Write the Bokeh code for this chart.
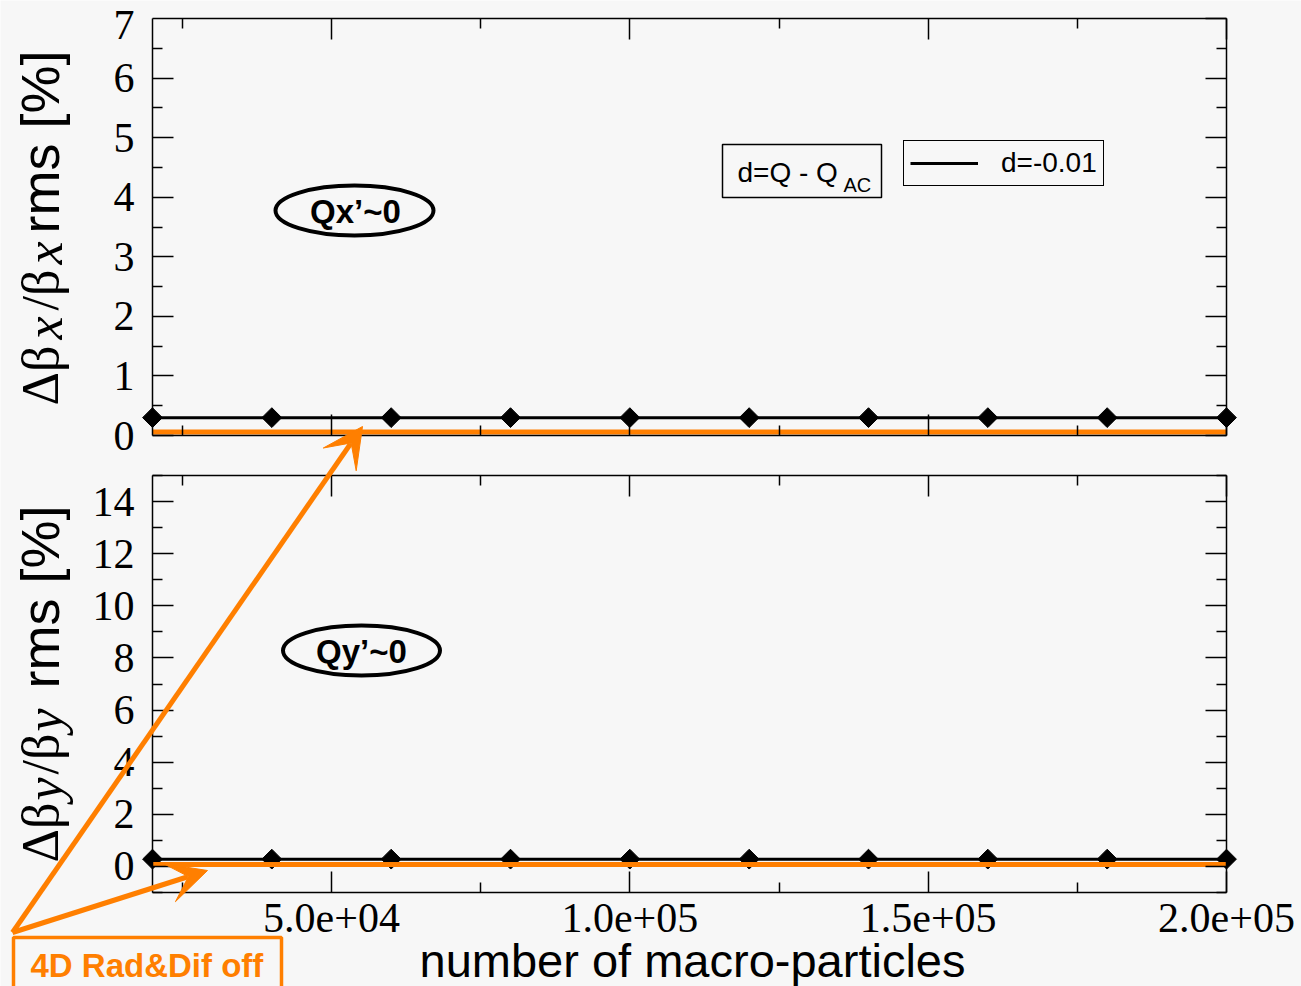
import math
from bokeh.plotting import figure
from bokeh.models import (Range1d, LinearAxis, FixedTicker, Legend, LegendItem, Label,
                          BoxAnnotation, Arrow, VeeHead)
from bokeh.embed import file_html
from bokeh.resources import INLINE

# ---------------- data ----------------
n_particles = [20000, 40000, 60000, 80000, 100000, 120000, 140000, 160000, 180000, 200000]
dbx_d001 = [0.30, 0.30, 0.30, 0.30, 0.30, 0.30, 0.30, 0.30, 0.30, 0.30]
dbx_rad_off = [0.06, 0.06, 0.06, 0.06, 0.06, 0.06, 0.06, 0.06, 0.06, 0.06]
dby_d001 = [0.28, 0.28, 0.28, 0.28, 0.28, 0.28, 0.28, 0.28, 0.28, 0.28]
dby_rad_off = [0.07, 0.07, 0.07, 0.07, 0.07, 0.07, 0.07, 0.07, 0.07, 0.07]

x_tick_values = [50000, 100000, 150000, 200000]
x_tick_labels = ["5.0e+04", "1.0e+05", "1.5e+05", "2.0e+05"]
x_minor_ticks = [25000, 75000, 125000, 175000]
top_y_ticks = [0, 1, 2, 3, 4, 5, 6, 7]
top_y_minor = [0.5, 1.5, 2.5, 3.5, 4.5, 5.5, 6.5]
bot_y_ticks = [0, 2, 4, 6, 8, 10, 12, 14]
bot_y_minor = [-1, 1, 3, 5, 7, 9, 11, 13, 15]

legend_label = "d=-0.01"
BG = "#f7f7f7"
OR = "#ff7f00"

# ---------------- page geometry (pixels) ----------------
W, H = 1301, 986
FL, FR = 152, 1226          # panel left / right edge
T_TOP, T_BOT = 18, 435      # top panel
B_TOP, B_BOT = 475, 892     # bottom panel
X0, X1 = 20000, 200000
TY0, TY1 = 0, 7
BY0, BY1 = -1, 15
MID = 0.32                  # baseline -> text middle, in font sizes

sx = (X1 - X0) / (FR - FL)
st = (TY1 - TY0) / (T_BOT - T_TOP)
sb = (BY1 - BY0) / (B_BOT - B_TOP)


def dx(px):
    return X0 + (px - FL) * sx


def dy(py):  # page pixel row -> default (top panel) data units
    return TY0 + (T_BOT - py) * st


p = figure(width=W, height=H,
           x_range=Range1d(X0 - FL * sx, X1 + (W - FR) * sx),
           y_range=Range1d(TY0 - (H - T_BOT) * st, TY1 + T_TOP * st),
           extra_y_ranges={"bot": Range1d(BY0 - (H - B_BOT) * sb, BY1 + B_TOP * sb)},
           output_backend="svg", toolbar_location=None,
           x_axis_location=None, y_axis_location=None, min_border=0,
           background_fill_color=BG, border_fill_color=BG, outline_line_color=None)
p.grid.visible = False


def style(ax):
    ax.axis_line_color = "black"
    ax.axis_line_width = 1.5
    ax.major_tick_in = 21
    ax.major_tick_out = 0
    ax.minor_tick_in = 10
    ax.minor_tick_out = 0
    ax.major_tick_line_color = "black"
    ax.minor_tick_line_color = "black"
    ax.major_tick_line_width = 1.5
    ax.minor_tick_line_width = 1.5
    ax.major_label_text_font = "Liberation Serif"
    ax.major_label_text_font_size = "42px"
    ax.major_label_text_color = "black"


def labeled_axis(side, ticks, minor, bounds, loc, yname, standoff, overrides=None):
    ax = LinearAxis(ticker=FixedTicker(ticks=ticks, minor_ticks=minor), bounds=bounds,
                    fixed_location=loc, y_range_name=yname)
    style(ax)
    ax.major_label_standoff = standoff
    if overrides:
        ax.major_label_overrides = overrides
    p.add_layout(ax, side)


def mirror_axis(side, ticks, minor, bounds, loc, yname):
    # long ticks (major positions) and short ticks (minor positions), no labels
    a1 = LinearAxis(ticker=FixedTicker(ticks=[], minor_ticks=ticks), bounds=bounds,
                    fixed_location=loc, y_range_name=yname)
    style(a1)
    a1.minor_tick_in = 21
    p.add_layout(a1, side)
    a2 = LinearAxis(ticker=FixedTicker(ticks=[], minor_ticks=minor), bounds=bounds,
                    fixed_location=loc, y_range_name=yname)
    style(a2)
    a2.axis_line_color = None
    p.add_layout(a2, side)


x_over = dict(zip(x_tick_values, x_tick_labels))
xb = (X0, X1)
# top panel axes (the label of the topmost tick is placed separately, kept inside the page)
labeled_axis("left", top_y_ticks[:-1], top_y_minor, (TY0, TY1), X0, "default", 18)
mirror_axis("right", top_y_ticks, top_y_minor, (TY0, TY1), X1, "default")
mirror_axis("below", x_tick_values, x_minor_ticks, xb, TY0, "default")
mirror_axis("above", x_tick_values, x_minor_ticks, xb, TY1, "default")
# bottom panel axes
labeled_axis("left", bot_y_ticks, bot_y_minor, (BY0, BY1), X0, "bot", 18)
mirror_axis("right", bot_y_ticks, bot_y_minor, (BY0, BY1), X1, "bot")
labeled_axis("below", x_tick_values, x_minor_ticks, xb, BY0, "bot", 11, x_over)
mirror_axis("above", x_tick_values, x_minor_ticks, xb, BY1, "bot")

# ---------------- data marks ----------------
r_top_line = p.line(n_particles, dbx_d001, line_color="black", line_width=3)
p.scatter(n_particles, dbx_d001, marker="square", angle=math.pi / 4, size=14,
          fill_color="black", line_color="black")
p.line(n_particles, dbx_rad_off, line_color=OR, line_width=5)

p.line(n_particles, dby_d001, line_color="black", line_width=3, y_range_name="bot")
p.scatter(n_particles, dby_d001, marker="square", angle=math.pi / 4, size=14,
          fill_color="black", line_color="black", y_range_name="bot")
p.line(n_particles, dby_rad_off, line_color=OR, line_width=5, y_range_name="bot")


# ---------------- texts / annotations ----------------
def rot_label(text, base_px, py, font, size, style_="normal"):
    # base_px: page column of the (rotated) text baseline
    anchor = base_px - MID * size
    p.add_layout(Label(x=dx(anchor), y=dy(py), text=text, angle=math.pi / 2,
                       text_align="left", text_baseline="middle",
                       text_font=font, text_font_size=f"{size}px", text_font_style=style_,
                       text_color="black"))


def label(text, px, base_py, size, font="Liberation Sans", style_="normal", color="black",
          align="left"):
    # base_py: page row of the text baseline
    p.add_layout(Label(x=dx(px), y=dy(base_py - MID * size), text=text, text_align=align,
                       text_baseline="middle", text_font=font, text_font_size=f"{size}px",
                       text_font_style=style_, text_color=color))


# topmost y tick label of the upper panel
label(str(top_y_ticks[-1]), FL - 18, 38, 42, font="Liberation Serif", align="right")

# y axis titles
rot_label("Δβ", 57, 405, "Liberation Serif", 52)
rot_label("x", 61, 339, "Liberation Serif", 52, "italic")
rot_label("/β", 57, 310, "Liberation Serif", 52)
rot_label("x", 61, 264, "Liberation Serif", 52, "italic")
rot_label("rms [%]", 57, 233, "Liberation Sans", 54)

rot_label("Δβ", 57, 862, "Liberation Serif", 52)
rot_label("y", 61, 800, "Liberation Serif", 52, "italic")
rot_label("/β", 57, 774, "Liberation Serif", 52)
rot_label("y", 61, 731, "Liberation Serif", 52, "italic")
rot_label("rms [%]", 57, 688, "Liberation Sans", 54)

# x axis title
label("number of macro-particles", 692, 975, 47, align="center")

# ellipses
p.ellipse(x=[dx(354)], y=[dy(210)], width=158, height=50, width_units="screen",
          height_units="screen", fill_color=None, line_color="black", line_width=4)
label("Qx’~0", 355, 222, 33, style_="bold", align="center")
p.ellipse(x=[dx(361)], y=[dy(650)], width=157, height=50, width_units="screen",
          height_units="screen", fill_color=None, line_color="black", line_width=4)
label("Qy’~0", 361, 662, 33, style_="bold", align="center")

# legend title box
p.add_layout(BoxAnnotation(left=dx(722), right=dx(881), top=dy(144), bottom=dy(197),
                           fill_color=BG, fill_alpha=1, line_color="black", line_alpha=1,
                           line_width=1.5))
label("d=Q - Q", 737, 181, 28)
label("AC", 843, 191, 20)

legend = Legend(items=[LegendItem(label=legend_label, renderers=[r_top_line])],
                location=(903, H - 186), padding=6, margin=0, spacing=0,
                glyph_width=68, glyph_height=20, label_standoff=23,
                label_text_font="Liberation Sans", label_text_font_size="28px",
                label_text_color="black",
                border_line_color="black", border_line_width=1.5, border_line_alpha=1,
                background_fill_color=BG, background_fill_alpha=1)
p.add_layout(legend)

# orange arrows and box
for tip in ((362, 426), (207, 870)):
    p.add_layout(Arrow(end=VeeHead(size=40, fill_color=OR, line_color=OR, line_width=1),
                       x_start=dx(12), y_start=dy(932), x_end=dx(tip[0]), y_end=dy(tip[1]),
                       line_color=OR, line_width=5))
p.add_layout(BoxAnnotation(left=dx(13), right=dx(281), top=dy(937), bottom=dy(1000),
                           fill_alpha=0, line_color=OR, line_alpha=1, line_width=3.5))
label("4D Rad&Dif off", 30, 976, 33, style_="bold", color=OR)

open("out.html", "w").write(file_html(p, INLINE))
